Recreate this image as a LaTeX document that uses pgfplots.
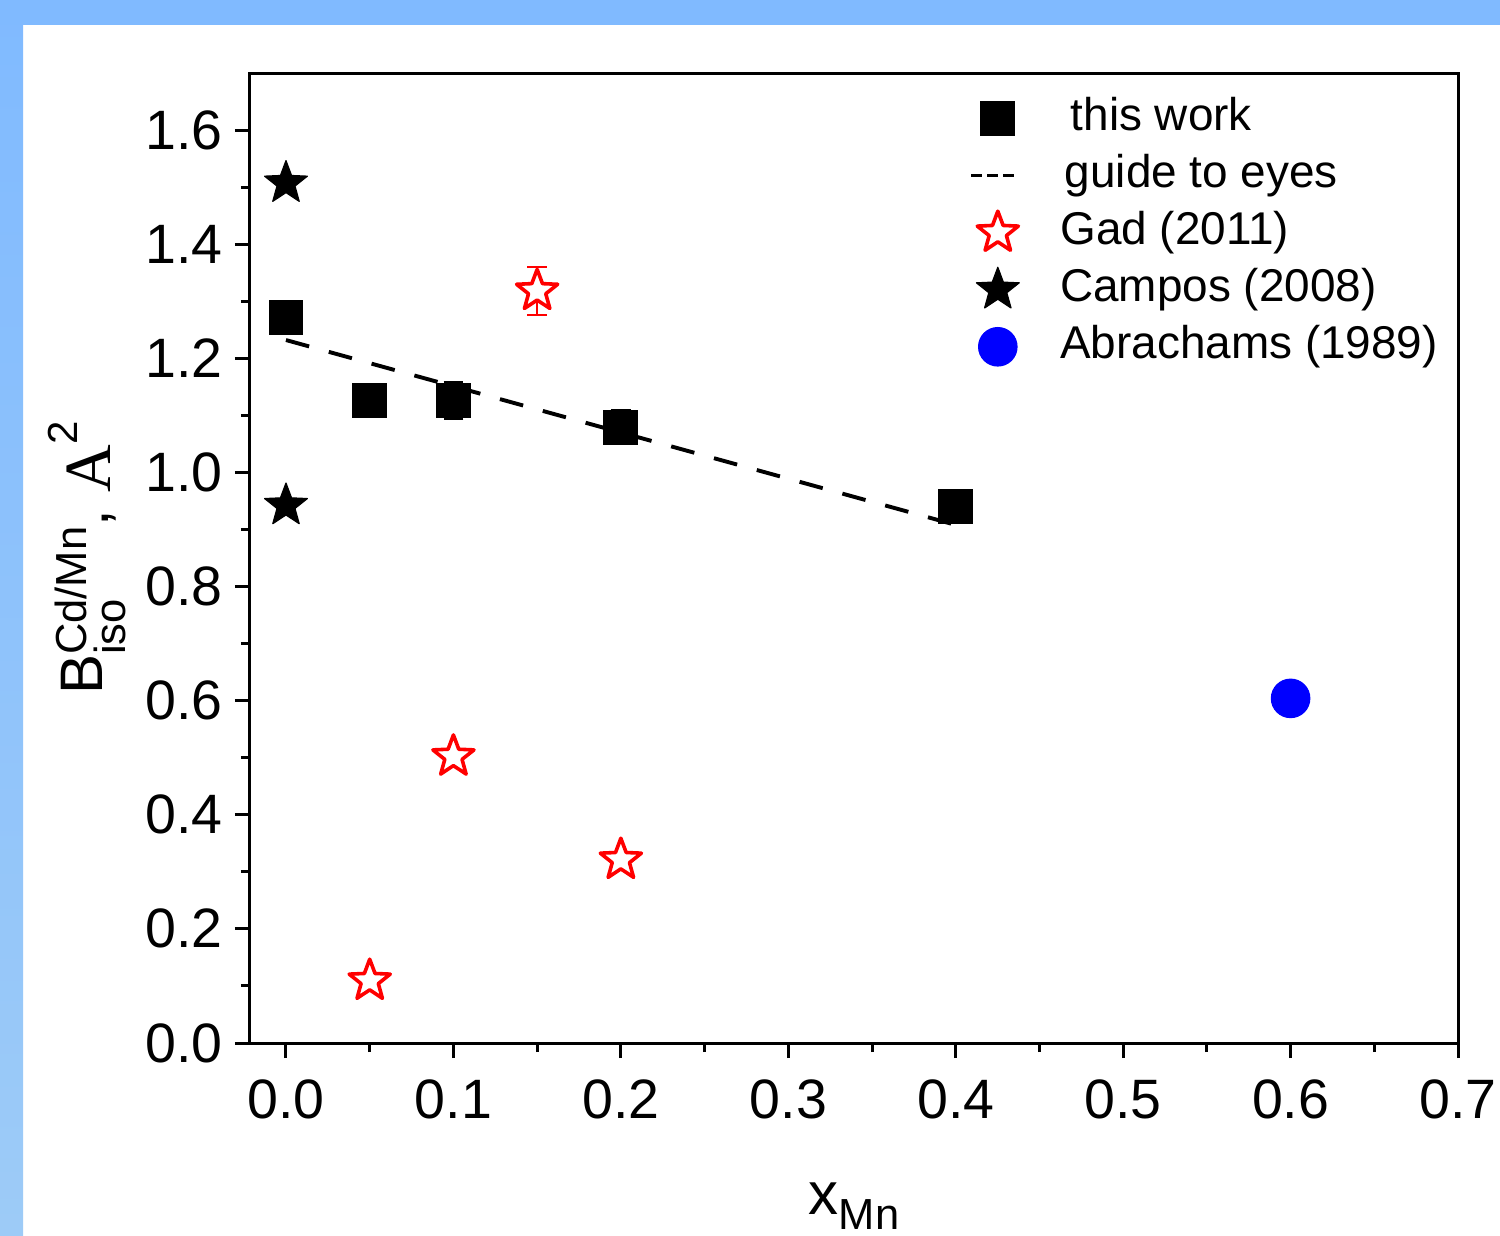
\documentclass[border=0pt]{standalone}
\usepackage{fontspec}
\setmainfont{Liberation Sans}
\newfontfamily\seriffont{Liberation Serif}
\usepackage{pgfplots}
\pgfplotsset{compat=1.18}
\definecolor{bandblue}{HTML}{80BAFF}
\definecolor{bandblue2}{HTML}{9DCBF7}
\definecolor{myred}{HTML}{FF0000}
\definecolor{myblue}{HTML}{0000FF}
\pgfdeclareplotmark{mystar}{%
  \pgfpathmoveto{\pgfqpointpolar{90}{\pgfplotmarksize}}%
  \pgfpathlineto{\pgfqpointpolar{126}{0.42\pgfplotmarksize}}%
  \pgfpathlineto{\pgfqpointpolar{162}{\pgfplotmarksize}}%
  \pgfpathlineto{\pgfqpointpolar{198}{0.42\pgfplotmarksize}}%
  \pgfpathlineto{\pgfqpointpolar{234}{\pgfplotmarksize}}%
  \pgfpathlineto{\pgfqpointpolar{270}{0.42\pgfplotmarksize}}%
  \pgfpathlineto{\pgfqpointpolar{306}{\pgfplotmarksize}}%
  \pgfpathlineto{\pgfqpointpolar{342}{0.42\pgfplotmarksize}}%
  \pgfpathlineto{\pgfqpointpolar{18}{\pgfplotmarksize}}%
  \pgfpathlineto{\pgfqpointpolar{54}{0.42\pgfplotmarksize}}%
  \pgfpathclose
  \pgfusepathqfillstroke
}
\begin{document}
\begin{tikzpicture}
\useasboundingbox (0,0) rectangle (500pt,411.667pt);
\fill[white] (0,0) rectangle (500pt,411.667pt);
\shade[top color=bandblue, bottom color=bandblue2] (0,0) rectangle (7.67pt,411.667pt);
\fill[bandblue] (0,403.33pt) rectangle (500pt,411.667pt);
\begin{axis}[
  at={(83.33pt,64pt)}, anchor=south west,
  width=402.67pt, height=323.33pt, scale only axis,
  xmin=-0.0215, xmax=0.7, ymin=0, ymax=1.7,
  axis line style={line width=1pt},
  xtick={0,0.1,0.2,0.3,0.4,0.5,0.6,0.7},
  ytick={0,0.2,0.4,0.6,0.8,1.0,1.2,1.4,1.6},
  minor x tick num=1, minor y tick num=1,
  tick align=outside, tick pos=left,
  major tick length=5pt, minor tick length=3pt,
  major tick style={line width=1pt, black},
  minor tick style={line width=1pt, black},
  /pgf/number format/.cd, fixed, fixed zerofill, precision=1, assume math mode=true, /pgf/.cd,
  ticklabel style={font=\fontsize{18.5}{22}\selectfont, inner sep=0pt},
  xticklabel style={anchor=base, yshift=-20pt},
  yticklabel style={anchor=east, xshift=-4pt},
  xlabel={\fontsize{20}{24}\selectfont x\raisebox{-5pt}{\fontsize{14.5}{16}\selectfont Mn}},
  xlabel style={at={(axis description cs:0.5,-0.1773)}, anchor=base},
  ylabel={\fontsize{20}{24}\selectfont B\makebox[0pt][l]{\raisebox{-7.5pt}{\fontsize{14.5}{16}\selectfont iso}}\raisebox{5.5pt}{\fontsize{14.5}{16}\selectfont Cd/Mn}\raisebox{-2pt}{,}\hspace{6pt}\raisebox{-2.5pt}{\seriffont\fontsize{22}{26}\selectfont A}\raisebox{8.5pt}{\fontsize{14}{16}\selectfont 2}},
  ylabel style={at={(axis description cs:-0.1217,0.5)}, anchor=base, rotate=0},
  legend style={draw=none, fill=none, at={(axis description cs:0.588,0.989)}, anchor=north west,
    font=\fontsize{15.3}{17}\selectfont, row sep=0pt,
    nodes={text height=12pt, text depth=4pt, inner ysep=1.5pt},
    /tikz/every odd column/.append style={column sep=11.7pt}},
  legend cell align=left,
]
\addlegendimage{only marks, mark=square*, mark size=5.6pt, black}
\addlegendentry{\hspace{3.5pt}this work}
\addlegendimage{legend image code/.code={\draw[black, line width=1pt, dash pattern=on 3.6pt off 1.7pt] (0.3cm-8.8pt,0) -- (0.3cm+6.2pt,0);}}
\addlegendentry{\hspace{1.5pt}guide to eyes}
\addlegendimage{only marks, mark=mystar, mark size=7.2pt, draw=myred, fill=white, line width=1.2pt, line join=round}
\addlegendentry{Gad (2011)}
\addlegendimage{only marks, mark=mystar, mark size=7.5pt, draw=black, fill=black, line join=round}
\addlegendentry{Campos (2008)}
\addlegendimage{only marks, mark=*, mark size=6.4pt, draw=myblue, fill=myblue}
\addlegendentry{Abrachams (1989)}

% guide to eyes
\addplot[forget plot, black, line width=1.3pt, dash pattern=on 8pt off 6.8pt] coordinates {(0.0,1.232) (0.4,0.908)};

% this work
\addplot[forget plot, only marks, mark=square*, mark size=5.6pt, black,
  error bars/.cd, y dir=both, y explicit,
  error bar style={line width=0.6pt, black},
  error mark options={rotate=90, mark size=3.3pt, line width=0.6pt}]
  table[x=x, y=y, y error=e] {
x y e
0.00 1.272 0.02
0.05 1.126 0.02
0.10 1.126 0.033
0.20 1.079 0.03
0.40 0.940 0.02
};

% Gad (2011)
\addplot[forget plot, only marks, mark=mystar, mark size=7.2pt, draw=myred, fill=white,
  mark options={line width=1.2pt, line join=round},
  error bars/.cd, y dir=both, y explicit,
  error bar style={line width=0.6pt, myred},
  error mark options={rotate=90, mark size=3.3pt, line width=0.6pt, myred}]
  table[x=x, y=y, y error=e] {
x y e
0.05 0.109 0.006
0.10 0.502 0.0
0.15 1.318 0.042
0.20 0.321 0.006
};

% Campos (2008)
\addplot[forget plot, only marks, mark=mystar, mark size=7.5pt, draw=black, fill=black, mark options={line join=round}]
  coordinates {(0.0,1.507) (0.0,0.942)};

% Abrachams (1989)
\addplot[forget plot, only marks, mark=*, mark size=6.4pt, draw=myblue, fill=myblue]
  coordinates {(0.6,0.604)};
\end{axis}
\end{tikzpicture}
\end{document}
